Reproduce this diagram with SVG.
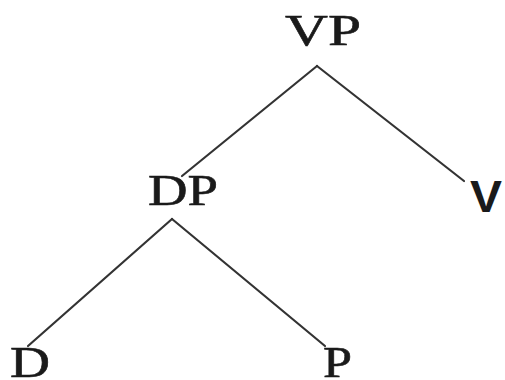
<svg xmlns="http://www.w3.org/2000/svg" width="505" height="380" viewBox="0 0 505 380">
<style>
.lbl{font-family:"Liberation Serif","Times New Roman",serif;font-size:45px;fill:#1a1a1a;stroke:#1a1a1a;stroke-width:0.6}
.sans{font-family:"Liberation Sans",Arial,sans-serif;font-weight:bold;font-size:45px;fill:#1a1a1a}
.edge{stroke:#333;stroke-width:2.2;fill:none;stroke-linecap:round}
</style>
<rect width="505" height="380" fill="#fff"/>
<g id="connectors">
<line class="edge" x1="317" y1="66" x2="182" y2="176"/>
<line class="edge" x1="317" y1="66" x2="464" y2="181"/>
<line class="edge" x1="172" y1="219" x2="28" y2="346"/>
<line class="edge" x1="172" y1="219" x2="325" y2="346"/>
</g>
<g id="VP"><text class="lbl" x="285" y="45" textLength="76" lengthAdjust="spacingAndGlyphs">VP</text></g>
<g id="DP"><text class="lbl" x="148" y="205" textLength="70" lengthAdjust="spacingAndGlyphs">DP</text></g>
<g id="V"><text class="sans" x="470" y="212" textLength="32" lengthAdjust="spacingAndGlyphs">V</text></g>
<g id="D"><text class="lbl" x="10" y="377" textLength="40" lengthAdjust="spacingAndGlyphs">D</text></g>
<g id="P"><text class="lbl" x="323" y="377" textLength="29" lengthAdjust="spacingAndGlyphs">P</text></g>
</svg>
